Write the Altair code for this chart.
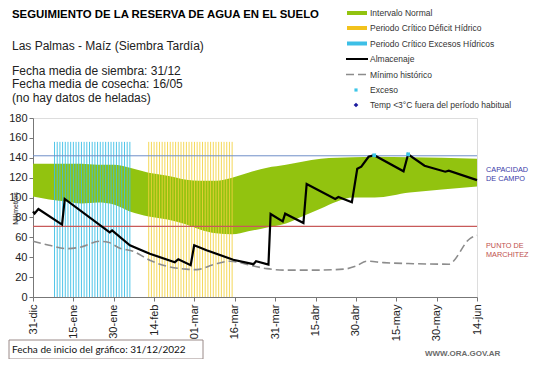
import altair as alt
import pandas as pd

# ---- data (x = days since 31-dic) ----
tick_days = [0, 15, 30, 45, 60, 75, 90, 105, 120, 135, 150, 165]
tick_labels = ["31-dic", "15-ene", "30-ene", "14-feb", "01-mar", "16-mar",
               "31-mar", "15-abr", "30-abr", "15-may", "30-may", "14-jun"]
y_ticks = [0, 20, 40, 60, 80, 100, 120, 140, 160, 180]

band_days = [0, 6, 12, 18, 24, 30, 36, 43, 50, 57, 62, 68, 74, 80, 87, 94, 100,
             107, 113, 119, 127, 140, 152, 165]
band_upper = [134, 134, 134, 134, 133, 133, 130, 125, 122, 118, 117, 117, 120,
              125, 130, 133, 136, 139, 140, 140.5, 141, 140.5, 140, 139]
band_lower = [101, 98, 96, 94, 95, 93, 86, 81, 78, 73, 68, 64, 63, 66, 70, 74,
              81, 89, 96, 100, 100, 105, 108, 111]

alm_days = [0, 0.6, 2, 10.8, 11.8, 28.5, 29.4, 36, 43.4, 52.7, 54, 58.6, 59.9,
            64.5, 74.4, 81.9, 82.9, 87.5, 88.3, 92.8, 93.7, 100.5, 101.7, 112.3,
            113.5, 118.5, 120.5, 122, 124.7, 126.8, 137.7, 139.4, 145.5, 153.2,
            154.5, 165]
alm_vals = [86, 84, 88.5, 72.7, 98.6, 65, 67, 52, 43.5, 35, 38, 32, 52, 47, 37.5,
            33, 36, 32.5, 83.5, 76, 83.8, 74.4, 113.7, 98.6, 100.6, 95.2, 129,
            131, 141, 142.5, 126.4, 143.5, 132, 126, 127, 117.5]

min_days = [0, 6, 12.4, 17.4, 24.8, 28, 32.3, 37.2, 43.4, 49.6, 57, 60.8, 67,
            73.2, 80.6, 86.9, 94, 104, 115.4, 120, 124, 130.3, 141.4, 154.4,
            162.5, 165]
min_vals = [56, 52, 48.6, 50, 56, 55, 49, 46, 37, 31, 28, 27.5, 32.5, 36, 32,
            28.5, 27, 27, 28, 31, 36, 34.6, 33.5, 33, 59, 62]

exceso_days = [126.8, 139.4]
exceso_vals = [142.5, 143.5]

capacidad = 142
marchitez = 71
periodo_top = 156
exceso_period = (8, 36)
deficit_period = (43, 74)

FONT = "Liberation Sans"

band_df = pd.DataFrame({"day": band_days, "up": band_upper, "lo": band_lower})
alm_df = pd.DataFrame({"day": alm_days, "v": alm_vals})
min_df = pd.DataFrame({"day": min_days, "v": min_vals})
exc_df = pd.DataFrame({"day": exceso_days, "v": exceso_vals})
cyan_df = pd.DataFrame({"day": list(range(exceso_period[0], exceso_period[1] + 1))})
yel_df = pd.DataFrame({"day": list(range(deficit_period[0], deficit_period[1] + 1))})
for d in (cyan_df, yel_df):
    d["top"] = periodo_top
    d["bot"] = 0

label_expr = "[" + ",".join("'%s'" % l for l in tick_labels) + "][round(datum.value/15)]"

xs = alt.Scale(domain=[0, 165], nice=False, zero=False)
ys = alt.Scale(domain=[0, 180], nice=False)

Xaxis = alt.Axis(
    values=tick_days, labelExpr=label_expr, labelAngle=-90, labelAlign="right",
    labelBaseline="middle", labelFont=FONT, labelFontSize=11, labelColor="#222",
    domainColor="#777", tickColor="#777", tickSize=4, grid=False, title=None,
    labelPadding=3, labelOverlap=False)
Yaxis = alt.Axis(values=y_ticks, labelFont=FONT, labelFontSize=11,
                 labelColor="#222", domainColor="#777", tickColor="#777", tickSize=4,
                 grid=False, title="Milímetros", titleFont=FONT, titleFontSize=7,
                 titleFontWeight="normal", titleColor="#222", labelOverlap=False,
                 titleX=-18, titleY=90, titleAngle=-90, titleAlign="center",
                 titleBaseline="middle")


def XX(f):
    return alt.X(f, scale=xs, axis=Xaxis)


def YY(f):
    return alt.Y(f, scale=ys, axis=Yaxis)


band = alt.Chart(band_df).mark_area(color="#92c30f", interpolate="monotone").encode(
    x=XX("day:Q"), y=YY("up:Q"), y2="lo:Q")

cyan = alt.Chart(cyan_df).mark_rule(color="#3dbfe6", strokeWidth=1, opacity=0.9).encode(
    x=XX("day:Q"), y=YY("bot:Q"), y2="top:Q")
yel = alt.Chart(yel_df).mark_rule(color="#f2d13c", strokeWidth=1, opacity=0.85).encode(
    x=XX("day:Q"), y=YY("bot:Q"), y2="top:Q")

cap_rule = alt.Chart(pd.DataFrame({"v": [capacidad]})).mark_rule(
    color="#6f8fc8", strokeWidth=1).encode(y=YY("v:Q"))
mar_rule = alt.Chart(pd.DataFrame({"v": [marchitez]})).mark_rule(
    color="#c85a5a", strokeWidth=1.2).encode(y=YY("v:Q"))

minline = alt.Chart(min_df).mark_line(color="#8c8c8c", strokeWidth=1.6,
                                      strokeDash=[8, 4], interpolate="monotone").encode(
    x=XX("day:Q"), y=YY("v:Q"))
alm = alt.Chart(alm_df).mark_line(color="#000", strokeWidth=2.2).encode(
    x=XX("day:Q"), y=YY("v:Q"))
exc = alt.Chart(exc_df).mark_point(color="#3dc6e8", filled=True, size=14, shape="square",
                                   opacity=1).encode(x=XX("day:Q"), y=YY("v:Q"))

one = pd.DataFrame({"a": [0]})


def txt(s, x, y, size=12, weight="normal", color="#222", font=FONT, align="left"):
    return alt.Chart(one).mark_text(text=s, align=align, baseline="middle",
                                    fontSize=size, fontWeight=weight, color=color,
                                    font=font).encode(x=alt.value(x), y=alt.value(y))


OX, OY = 33, 118  # plot origin on page

texts = [
    txt("SEGUIMIENTO DE LA RESERVA DE AGUA  EN EL SUELO", 12 - OX, 15 - OY, 11.4, "bold", "#000"),
    txt("Las Palmas - Maíz  (Siembra Tardía)", 12 - OX, 46 - OY, 12),
    txt("Fecha media de siembra: 31/12", 12 - OX, 71 - OY, 12),
    txt("Fecha media de cosecha: 16/05", 12 - OX, 84 - OY, 12),
    txt("(no hay  datos de heladas)", 12 - OX, 98 - OY, 12),
    txt("CAPACIDAD", 486 - OX, 170 - OY, 7.3, color="#3a3aa8"),
    txt("DE  CAMPO", 486 - OX, 179 - OY, 7.3, color="#3a3aa8"),
    txt("PUNTO   DE", 486 - OX, 246 - OY, 7.3, color="#c0504d"),
    txt("MARCHITEZ", 486 - OX, 255 - OY, 7.3, color="#c0504d"),
    txt("WWW.ORA.GOV.AR", 425 - OX, 354 - OY, 8, "bold", "#6b6b6b"),
]

# legend
leg_rows = [13, 28, 43.5, 59, 74.5, 90, 105]
leg_labels = ["Intervalo Normal", "Periodo Crítico Déficit Hídrico",
              "Periodo Crítico Excesos Hídricos", "Almacenaje", "Mínimo histórico",
              "Exceso", "Temp <3°C fuera del período habitual"]
legend = []
for yy, lab in zip(leg_rows, leg_labels):
    legend.append(txt(lab, 370 - OX, yy - OY, 8.5, color="#333"))
sx1, sx2 = 347 - OX, 367 - OX
for yy, col in zip(leg_rows[:3], ["#92c30f", "#f2c21c", "#3dbfe6"]):
    legend.append(alt.Chart(one).mark_rule(color=col, strokeWidth=4).encode(
        x=alt.value(sx1), x2=alt.value(sx2), y=alt.value(yy - OY)))
legend.append(alt.Chart(one).mark_rule(color="#000", strokeWidth=2).encode(
    x=alt.value(sx1 - 1), x2=alt.value(sx2 + 1), y=alt.value(leg_rows[3] - OY)))
legend.append(alt.Chart(one).mark_rule(color="#8c8c8c", strokeWidth=1.6,
                                       strokeDash=[8, 4]).encode(
    x=alt.value(sx1 - 1), x2=alt.value(sx2 + 1), y=alt.value(leg_rows[4] - OY)))
legend.append(alt.Chart(one).mark_point(color="#3dc6e8", filled=True, size=10,
                                        shape="square", opacity=1).encode(
    x=alt.value(356 - OX), y=alt.value(leg_rows[5] - OY)))
legend.append(alt.Chart(one).mark_point(color="#1a1a9e", filled=True, size=22,
                                        shape="diamond", opacity=1).encode(
    x=alt.value(356 - OX), y=alt.value(leg_rows[6] - OY)))

# footer box
footer = [
    alt.Chart(one).mark_rect(fill="white", stroke="#9a8a88", strokeWidth=1).encode(
        x=alt.value(9 - OX), x2=alt.value(203 - OX), y=alt.value(340 - OY),
        y2=alt.value(359 - OY)),
    txt("Fecha de inicio del gráfico:   31/12/2022", 12 - OX, 350 - OY, 10,
        color="#111", font="Lato"),
]

chart = alt.layer(band, cyan, yel, cap_rule, mar_rule, minline, alm, exc,
                  *texts, *legend, *footer).properties(
    width=444, height=179,
    autosize=alt.AutoSizeParams(type="none"),
    padding={"left": 25, "top": 110, "right": 56, "bottom": 62},
).configure_view(stroke=None).configure(background="white")

chart.save("out.html", embed_options={"renderer": "svg", "actions": False})
